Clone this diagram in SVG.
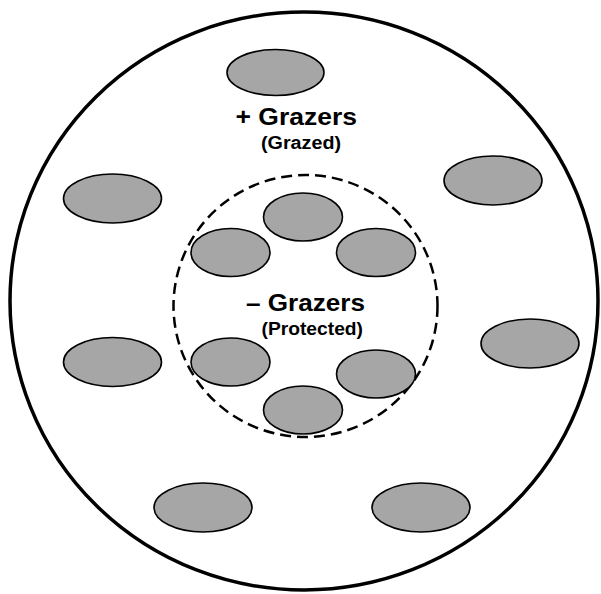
<svg xmlns="http://www.w3.org/2000/svg" width="601" height="594" viewBox="0 0 601 594">
<style>
.patch{fill:#a6a6a6;stroke:#000;stroke-width:1.6}
.t{font-family:"Liberation Sans",Arial,sans-serif;font-weight:bold;fill:#000}
.big{font-size:24.5px}
.small{font-size:18px}
</style>
<rect width="601" height="594" fill="#fff"/>
<g id="outer"><ellipse cx="304" cy="301" rx="294" ry="289" fill="none" stroke="#000" stroke-width="3.5"/></g>
<g id="inner"><ellipse cx="305.5" cy="306" rx="132" ry="131" fill="none" stroke="#000" stroke-width="2.5" stroke-dasharray="11,6"/></g>
<g id="patches">
<ellipse id="p1" class="patch" cx="275.5" cy="72.5" rx="48.5" ry="23"/>
<ellipse id="p2" class="patch" cx="112.5" cy="198.5" rx="49" ry="24.5"/>
<ellipse id="p3" class="patch" cx="493" cy="180.5" rx="49" ry="24.5"/>
<ellipse id="p4" class="patch" cx="112.5" cy="362" rx="49" ry="24.5"/>
<ellipse id="p5" class="patch" cx="530" cy="343.5" rx="49" ry="24.5"/>
<ellipse id="p6" class="patch" cx="203" cy="507.5" rx="49" ry="24.5"/>
<ellipse id="p7" class="patch" cx="421" cy="507.5" rx="49" ry="24.5"/>
<ellipse id="p8" class="patch" cx="303" cy="217" rx="39.5" ry="24"/>
<ellipse id="p9" class="patch" cx="230.5" cy="252.5" rx="39.5" ry="24"/>
<ellipse id="p10" class="patch" cx="376" cy="252.5" rx="39.5" ry="24"/>
<ellipse id="p11" class="patch" cx="230.5" cy="362" rx="39.5" ry="24"/>
<ellipse id="p12" class="patch" cx="376" cy="374" rx="39.5" ry="24"/>
<ellipse id="p13" class="patch" cx="303" cy="410" rx="39.5" ry="24"/>
</g>
<g id="labels">
<text class="t big" x="235.5" y="125" textLength="121.5" lengthAdjust="spacingAndGlyphs">+ Grazers</text>
<text class="t small" x="261" y="148.7" textLength="80" lengthAdjust="spacingAndGlyphs">(Grazed)</text>
<text class="t big" x="246" y="310.7" textLength="119" lengthAdjust="spacingAndGlyphs">– Grazers</text>
<text class="t small" x="261.5" y="335" textLength="101.5" lengthAdjust="spacingAndGlyphs">(Protected)</text>
</g>
</svg>
